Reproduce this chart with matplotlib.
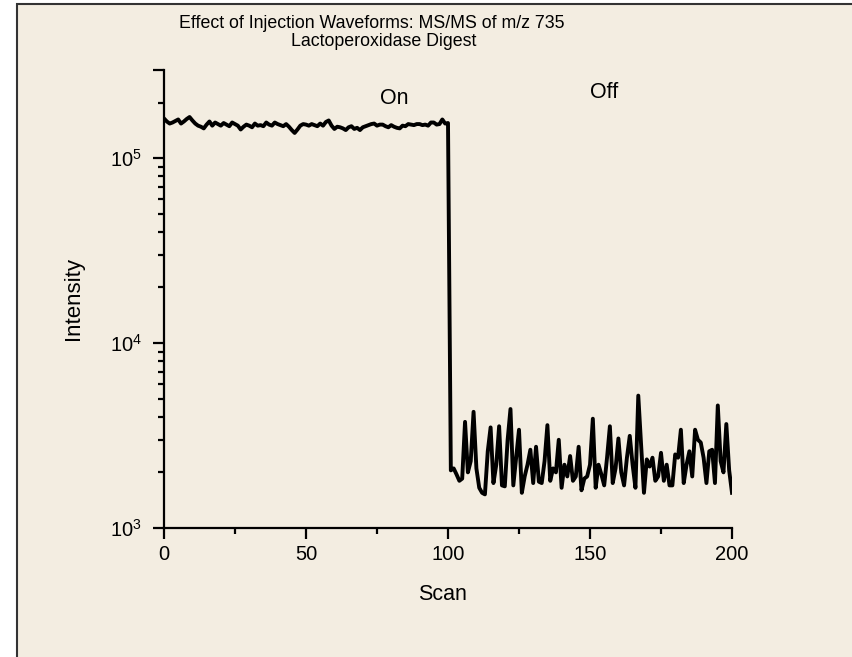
import numpy as np
import matplotlib.pyplot as plt
from matplotlib.patches import Rectangle

plt.rcParams['font.family'] = ['Liberation Sans', 'DejaVu Sans']
plt.rcParams['mathtext.fontset'] = 'custom'
plt.rcParams['mathtext.rm'] = 'Liberation Sans'

# intensity in thousands, scans 0-100 (waveforms on)
on_k = [164, 158, 154, 156, 159, 162, 154, 158, 163, 167,
        160, 154, 150, 148, 145, 152, 158, 150, 156, 153,
        150, 155, 152, 149, 156, 153, 150, 143, 148, 152,
        150, 147, 154, 150, 151, 149, 156, 152, 150, 156,
        153, 151, 149, 153, 148, 142, 137, 143, 150, 153,
        152, 150, 153, 151, 149, 154, 150, 157, 160, 150,
        144, 148, 147, 145, 142, 147, 149, 144, 146, 142,
        147, 149, 151, 153, 154, 150, 152, 152, 149, 147,
        151, 148, 146, 145, 150, 149, 153, 152, 151, 153,
        153, 151, 152, 150, 156, 156, 152, 153, 162, 154,
        155]
# scans 101-200 (waveforms off)
off = [2050, 2100, 1950, 1800, 1850, 3750, 2000, 2300, 4250, 2100,
       1650, 1550, 1520, 2600, 3500, 1750, 2200, 3550, 1700, 1680,
       3000, 4400, 1700, 2400, 3400, 1550, 1900, 2200, 2650, 1750,
       2750, 1780, 1750, 2300, 3600, 1800, 2100, 2000, 3000, 1650,
       2200, 1900, 2450, 1800, 1900, 2750, 1600, 1850, 1900, 2200,
       3900, 1650, 2200, 1950, 1700, 2400, 3550, 1750, 2100, 3050,
       2000, 1700, 2400, 3150, 2200, 1650, 5200, 2800, 1550, 2350,
       2150, 2400, 1800, 1900, 2550, 1800, 2200, 1700, 1700, 2500,
       2400, 3400, 1750, 2200, 2600, 1900, 3400, 3000, 2900, 2400,
       1750, 2600, 2650, 1750, 4600, 2300, 2000, 3650, 2050, 1550]

intensity = np.array([v * 1000 for v in on_k] + off, dtype=float)
scan = np.arange(len(intensity))

cream = '#F3EDE1'
fig = plt.figure(figsize=(8.52, 6.57), dpi=100, facecolor='white')
fig.patches.append(Rectangle((17 / 852, -0.01), 1.0, 1 - 4 / 657 + 0.01,
                             transform=fig.transFigure, facecolor=cream,
                             edgecolor='#333333', linewidth=1.5, zorder=-10))

ax = fig.add_axes([164 / 852, 1 - 528 / 657, 568 / 852, 458 / 657])
ax.set_zorder(1)
ax.set_facecolor('none')
ax.plot(scan, intensity, color='black', lw=2.8, solid_joinstyle='round')
ax.set_yscale('log')
ax.set_xlim(0, 200)
ax.set_ylim(1e3, 3e5)

ax.set_xticks([0, 50, 100, 150, 200])
ax.set_xticks([25, 75, 125, 175], minor=True)
ax.set_yticks([1e3, 1e4, 1e5, 3e5], ['$10^3$', '$10^4$', '$10^5$', ''])
minor = [m * 10 ** d for d in (3, 4) for m in range(2, 10)] + [2e5]
ax.set_yticks(minor, minor=True)
ax.set_yticklabels([], minor=True)

for s in ('top', 'right'):
    ax.spines[s].set_visible(False)
for s in ('left', 'bottom'):
    ax.spines[s].set_linewidth(1.6)
ax.tick_params(which='major', length=8, width=1.6, labelsize=14.5)
ax.tick_params(axis='x', which='major', pad=4)
ax.tick_params(axis='y', which='major', pad=8)
ax.tick_params(which='minor', length=4, width=1.6)

ax.set_xlabel('Scan', fontsize=15.5)
ax.set_ylabel('Intensity', fontsize=16)
ax.xaxis.set_label_coords(0.49, -0.122)
ax.yaxis.set_label_coords(-0.141, 0.5)

fig.text(372 / 852, 1 - 24 / 657, 'Effect of Injection Waveforms: MS/MS of m/z 735',
         ha='center', va='center', fontsize=12.8)
fig.text(384 / 852, 1 - 41 / 657, 'Lactoperoxidase Digest',
         ha='center', va='center', fontsize=12.8)
ax.text(81, 2.1e5, 'On', ha='center', va='center', fontsize=15.5)
ax.text(155, 2.27e5, 'Off', ha='center', va='center', fontsize=15.5)

fig.savefig('out.png', dpi=100, facecolor='white')
